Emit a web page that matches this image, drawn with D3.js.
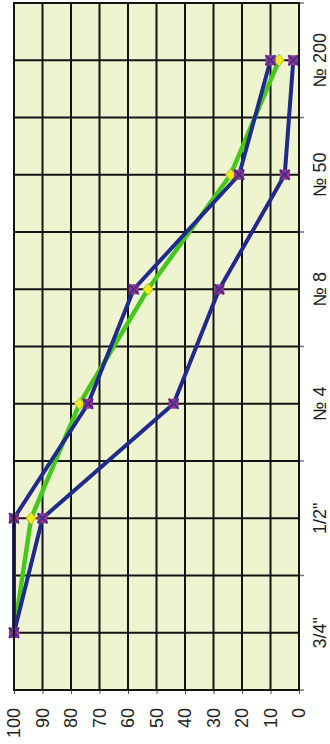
<!DOCTYPE html>
<html>
<head>
<meta charset="utf-8">
<script src="https://cdn.jsdelivr.net/npm/d3@7"></script>
<style>
  html, body { margin: 0; padding: 0; background: #ffffff; }
  svg { display: block; }
</style>
</head>
<body>
<svg id="chart" width="330" height="744"></svg>
<script>
// Sieve sizes (category axis) and percent passing for each gradation curve
const sieves = ['3/4"', '1/2"', '№ 4', '№ 8', '№ 50', '№ 200'];
const upperLimit = [100, 100, 74, 58, 21, 10];
const lowerLimit = [100, 90, 44, 28, 5, 2];
const blend = [100, 94, 77, 53, 24, 7];
const valueTicks = [0, 10, 20, 30, 40, 50, 60, 70, 80, 90, 100];

const svg = d3.select('#chart');

// The chart is laid out in its natural orientation and then turned a quarter
// turn counter-clockwise, so categories run bottom-to-top on the page.
const plotW = 687;   // category extent
const plotH = 285;   // value extent
const root = svg.append('g').attr('transform', 'translate(14,690) rotate(-90)');

const x = d3.scaleBand().domain(sieves).range([0, plotW]).padding(0);
const y = d3.scaleLinear().domain([0, 100]).range([plotH, 0]);
const cx = d => x(d) + x.bandwidth() / 2;

// plot background
root.append('rect')
  .attr('x', 0).attr('y', 0).attr('width', plotW).attr('height', plotH)
  .attr('fill', '#eef4d0');

// gridlines: every 10 % and at each category centre and boundary
const grid = root.append('g').attr('stroke', '#141414').attr('stroke-width', 2);
grid.selectAll('line.h').data(valueTicks).join('line')
  .attr('x1', 0).attr('x2', plotW)
  .attr('y1', d => y(d)).attr('y2', d => y(d));
const bounds = sieves.map(s => x(s)).concat([plotW]);
grid.selectAll('line.b').data(bounds).join('line')
  .attr('x1', d => d).attr('x2', d => d)
  .attr('y1', 0).attr('y2', plotH);
grid.selectAll('line.c').data(sieves).join('line')
  .attr('x1', d => cx(d)).attr('x2', d => cx(d))
  .attr('y1', 0).attr('y2', plotH);

// value axis (appears along the bottom of the page)
const yAxis = root.append('g')
  .call(d3.axisLeft(y).tickValues(valueTicks).tickSize(4).tickPadding(14));
yAxis.select('.domain').remove();
yAxis.selectAll('line').attr('stroke', '#555');
yAxis.selectAll('text')
  .attr('font-family', 'Liberation Sans, Arial, sans-serif')
  .attr('font-size', 18).attr('fill', '#222');

// category axis (appears along the right side of the page)
const xAxis = root.append('g').attr('transform', `translate(0,${plotH})`)
  .call(d3.axisBottom(x).tickSize(0).tickPadding(14));
xAxis.select('.domain').remove();
xAxis.selectAll('text')
  .attr('font-family', 'Liberation Sans, Arial, sans-serif')
  .attr('font-size', 18).attr('fill', '#222');
// small outside ticks between categories
root.append('g').selectAll('line').data(bounds).join('line')
  .attr('x1', d => d).attr('x2', d => d)
  .attr('y1', plotH).attr('y2', plotH + 5)
  .attr('stroke', '#777').attr('stroke-width', 1.5);

const line = d3.line().x((d, i) => cx(sieves[i])).y(d => y(d));

// blended gradation curve
root.append('path').datum(blend)
  .attr('d', line).attr('fill', 'none')
  .attr('stroke', '#45c81a').attr('stroke-width', 4.5)
  .attr('stroke-linejoin', 'round');

// specification limits
[upperLimit, lowerLimit].forEach(series => {
  root.append('path').datum(series)
    .attr('d', line).attr('fill', 'none')
    .attr('stroke', '#1f2a8c').attr('stroke-width', 4)
    .attr('stroke-linejoin', 'round');
});

// diamond markers on the blend
root.append('g').selectAll('path').data(blend).join('path')
  .attr('transform', (d, i) => `translate(${cx(sieves[i])},${y(d)}) rotate(90)`)
  .attr('d', 'M0,-6L5,0L0,6L-5,0Z')
  .attr('fill', '#f6ea18').attr('stroke', '#9fbf22').attr('stroke-width', 1);

// square-with-cross markers on the limits
[upperLimit, lowerLimit].forEach(series => {
  const m = root.append('g').selectAll('g').data(series).join('g')
    .attr('transform', (d, i) => `translate(${cx(sieves[i])},${y(d)})`);
  m.append('rect').attr('x', -5).attr('y', -5).attr('width', 10).attr('height', 10)
    .attr('fill', '#a0328e');
  m.append('path').attr('d', 'M-5,-5L5,5M-5,5L5,-5')
    .attr('stroke', '#40308e').attr('stroke-width', 1.8);
});

// plot border
root.append('rect')
  .attr('x', 0).attr('y', 0).attr('width', plotW).attr('height', plotH)
  .attr('fill', 'none').attr('stroke', '#141414').attr('stroke-width', 2);
</script>
</body>
</html>
